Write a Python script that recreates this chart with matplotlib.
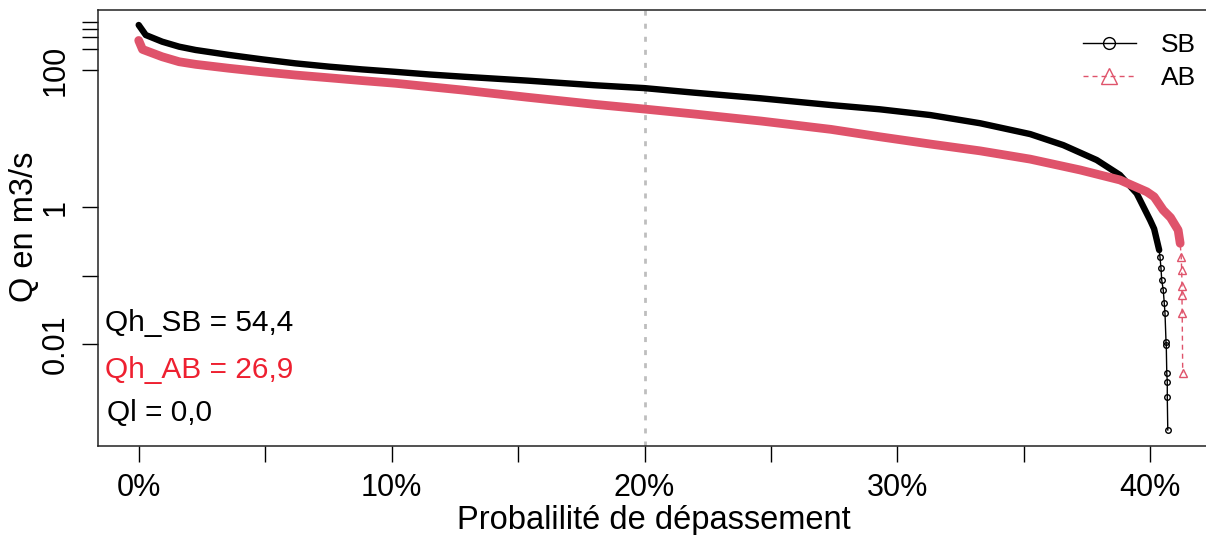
import numpy as np
import matplotlib.pyplot as plt
from matplotlib.lines import Line2D

plt.rcParams['font.family'] = ['Liberation Sans', 'DejaVu Sans']

# Courbes des débits classés
p_sb = [0, 0.28, 0.93, 1.6, 2.25, 3.57, 4.89, 6.2, 7.52, 8.84, 10.16, 11.5, 12.8,
        15.37, 18.0, 20.0, 21.96, 24.6, 27.37, 29.3, 31.3, 33.27, 35.25, 36.56,
        37.88, 38.8, 39.46, 39.99, 40.15, 40.35, 40.38, 40.42, 40.45, 40.51, 40.55,
        40.58, 40.62, 40.63, 40.65, 40.67, 40.67, 40.69]
q_sb = [454, 324, 259, 219, 196, 166, 143, 125, 112, 102, 94, 86, 80,
        70, 60, 54.4, 46.7, 38.6, 30.8, 26.7, 22, 16.7, 11.6, 8.0,
        4.85, 2.93, 1.58, 0.645, 0.48, 0.235, 0.188, 0.13, 0.086, 0.0616, 0.04,
        0.028, 0.0108, 0.0096, 0.0038, 0.0028, 0.00166, 0.000556]

p_ab = [0, 0.15, 0.93, 1.6, 2.25, 3.57, 4.89, 6.2, 7.52, 8.84, 10.16, 11.5, 12.8,
        15.37, 18.0, 20.0, 21.96, 24.6, 27.37, 29.3, 31.3, 33.27, 35.25, 37.23,
        38.8, 39.86, 40.15, 40.51, 40.8, 41.1, 41.18, 41.22, 41.24, 41.25, 41.25,
        41.26, 41.28]
q_ab = [270, 200, 156, 132, 121, 106, 94, 84.5, 77, 70, 64, 57, 51,
        40, 31.6, 26.9, 22.8, 18, 13.6, 10.6, 8.3, 6.6, 5.0, 3.47,
        2.48, 1.67, 1.41, 0.9, 0.7, 0.46, 0.295, 0.188, 0.12, 0.07, 0.052,
        0.028, 0.0038]

x_ticks = [0, 5, 10, 15, 20, 25, 30, 35, 40]
x_labels = ['0%', '', '10%', '', '20%', '', '30%', '', '40%']
y_ticks = [0.01, 0.1, 1, 100, 200, 300, 400, 500]
y_labels = ['0.01', '', '1', '100', '', '', '', '']

qh_sb = '54,4'
qh_ab = '26,9'
ql = '0,0'

BLACK = 'black'
PINK = '#DF536B'
DASH = (0, (3.6, 2.9))

W, H = 1206, 535
fig = plt.figure(figsize=(W / 100, H / 100), dpi=100)
# frame: left 97.7px, top 10px, bottom 446px, right edge is cut off in the original
ax = fig.add_axes([97.7 / W, (H - 446) / H, (1230 - 97.7) / W, 436 / H])
ax.set_yscale('log')
ax.set_xlim(-1.621, 43.15)
ax.set_ylim(10 ** -3.489, 10 ** 2.876)

ax.axvline(20, color='#BEBEBE', lw=2, ls=(0, (1.8, 2.9)), zorder=1)

p_sb_a, q_sb_a = np.array(p_sb), np.array(q_sb)
p_ab_a, q_ab_a = np.array(p_ab), np.array(q_ab)

# SB : bande dense de points + queue de points isolés
band = q_sb_a >= 0.2
ax.plot(p_sb_a, q_sb_a, color=BLACK, lw=1, zorder=3)
ax.plot(p_sb_a[~band], q_sb_a[~band], ls='none', marker='o', ms=4, mfc='none',
        mec=BLACK, mew=1, zorder=3)
ax.plot(p_sb_a[band], q_sb_a[band], color=BLACK, lw=4.6, solid_capstyle='round',
        solid_joinstyle='round', zorder=3)

# AB
band = q_ab_a >= 0.25
ax.plot(p_ab_a, q_ab_a, color=PINK, lw=1, ls=DASH, zorder=4)
ax.plot(p_ab_a[~band], q_ab_a[~band], ls='none', marker='^', ms=5.5, mfc='none',
        mec=PINK, mew=1, zorder=4)
ax.plot(p_ab_a[band], q_ab_a[band], color=PINK, lw=6.3, solid_capstyle='round',
        solid_joinstyle='round', zorder=4)

ax.set_xticks(x_ticks)
ax.set_xticklabels(x_labels)
ax.set_yticks(y_ticks)
ax.set_yticklabels(y_labels)
ax.yaxis.set_minor_locator(plt.NullLocator())
ax.tick_params(axis='both', length=11.5, width=1, labelsize=22, pad=8)
for lab in ax.get_yticklabels():
    lab.set_rotation(90)
    lab.set_va('center')

for s in ax.spines.values():
    s.set_linewidth(1.1)
    s.set_color('#222222')

fig.text(25 / W, (H - 227) / H, 'Q en m3/s', fontsize=23.5, rotation=90,
         ha='center', va='center')
fig.text(654 / W, (H - 520) / H, 'Probalilité de dépassement', fontsize=23.5,
         ha='center', va='center')

fig.text(105 / W, (H - 323) / H, f'Qh_SB = {qh_sb}', fontsize=21.5, va='center')
fig.text(105 / W, (H - 370) / H, f'Qh_AB = {qh_ab}', fontsize=21.5, va='center', color='#EE2030')
fig.text(107 / W, (H - 413) / H, f'Ql = {ql}', fontsize=21.5, va='center')

handles = [
    Line2D([], [], color=BLACK, lw=1, marker='o', ms=8.5, mfc='none', mew=1),
    Line2D([], [], color=PINK, lw=1, ls=DASH, marker='^', ms=11, mfc='none', mew=1),
]
fig.legend(handles, ['SB', 'AB'], loc='upper right', bbox_to_anchor=(1196 / W, (H - 33) / H),
           frameon=False, fontsize=19, handlelength=2.0, handletextpad=0.95,
           labelspacing=0.35, borderpad=0, borderaxespad=0)

fig.savefig('out.png', dpi=100)
